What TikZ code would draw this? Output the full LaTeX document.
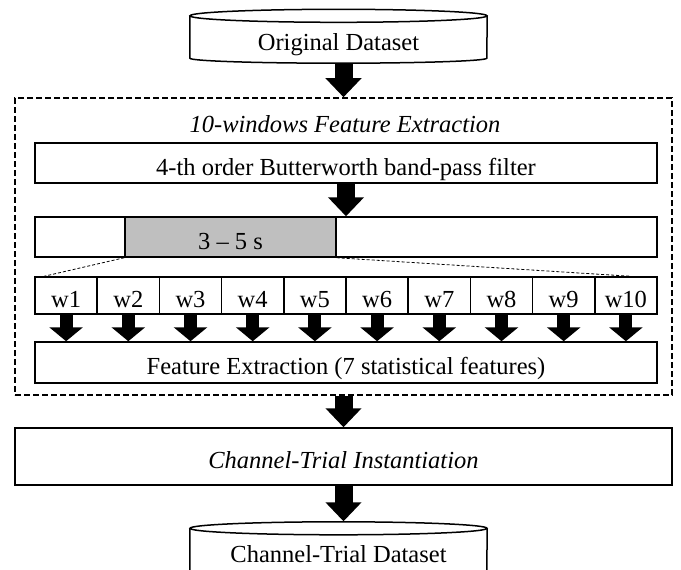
\documentclass[tikz,border=0pt]{standalone}
\usepackage{fontspec}
\setmainfont{Liberation Serif}
\usetikzlibrary{calc,positioning,arrows.meta}

\begin{document}
\begin{tikzpicture}[x=1pt,y=-1pt,inner sep=0.4mm,
  every node/.style={font=\fontsize{24.5}{28}\selectfont},
  plainbox/.style={draw,line width=1.5pt,fill=white,inner sep=0pt,text height=26pt,text depth=2pt},
  dbbody/.style={minimum width=297pt,minimum height=42pt,inner sep=0pt,text height=34pt,text depth=8pt},
  dbline/.style={line width=1.5pt},
  bigarrow/.style={line width=18pt,-{Triangle[length=19pt,width=35pt]}},
  smallarrow/.style={line width=13pt,-{Triangle[length=14pt,width=33pt]}},
  zoomline/.style={line width=0.8pt,dash pattern=on 3pt off 2pt},
  framebox/.style={draw,line width=1.6pt,dash pattern=on 6pt off 3pt,minimum width=657pt,minimum height=297pt}]
\useasboundingbox (0,0) rectangle (681,570);

% dashed frame and its title
\node[framebox] (fx) at (343.5,246.5) {};
\node[font=\fontsize{24.5}{28}\selectfont\itshape] (title) at (345,124.5) {10-windows Feature Extraction};

% input dataset
\node[dbbody] (orig) at (338.5,37) {Original Dataset};
\draw[dbline] (orig.north west) -- (orig.south west) arc[start angle=180,end angle=360,x radius=148.5pt,y radius=5pt] -- (orig.north east);
\draw[dbline,fill=white] (orig.north) ellipse [x radius=148.5pt,y radius=6.5pt];

% filter
\node[plainbox,minimum width=622pt,minimum height=40pt] (bw) at (346,163) {4-th order Butterworth band-pass filter};

% time segment
\node[plainbox,minimum width=90pt,minimum height=40pt] (seg1) at (80,237) {};
\node[plainbox,fill=black!25,minimum width=211pt,minimum height=40pt] (seg2) at (230.5,237) {3 – 5 s};
\node[plainbox,minimum width=321pt,minimum height=40pt] (seg3) at (496.5,237) {};

% windows
\foreach \i in {1,...,10}
  \node[plainbox,minimum width=62.2pt,minimum height=37pt] (w\i) at ({35+62.2*(\i-0.5)},295.5) {w\i};

\draw[zoomline] (seg2.south west) -- ($(w1.north west)+(10,0)$);
\draw[zoomline] (seg2.south east) -- ($(w10.north east)+(-27,0)$);

% features
\node[plainbox,minimum width=622pt,minimum height=41pt] (fe) at (346,362.5) {Feature Extraction (7 statistical features)};

\foreach \i in {1,...,10}
  \draw[smallarrow] (w\i.south) -- (w\i.south |- fe.north);

% instantiation
\node[plainbox,minimum width=657pt,minimum height=57pt,font=\fontsize{24.5}{28}\selectfont\itshape] (inst) at (343.5,456.5) {Channel-Trial Instantiation};

% output dataset
\node[dbbody] (ctd) at (338.5,549.5) {Channel-Trial Dataset};
\draw[dbline] (ctd.north west) -- (ctd.south west) arc[start angle=180,end angle=360,x radius=148.5pt,y radius=5pt] -- (ctd.north east);
\draw[dbline,fill=white] (ctd.north) ellipse [x radius=148.5pt,y radius=6.5pt];

% main flow
\draw[bigarrow,shorten <=5pt] (orig.south -| fx.north) -- (fx.north);
\draw[bigarrow] (bw.south) -- (bw.south |- seg2.north);
\draw[bigarrow] (fx.south) -- (fx.south |- inst.north);
\draw[bigarrow,shorten >=7pt] (inst.south) -- (inst.south |- ctd.north);
\end{tikzpicture}
\end{document}
